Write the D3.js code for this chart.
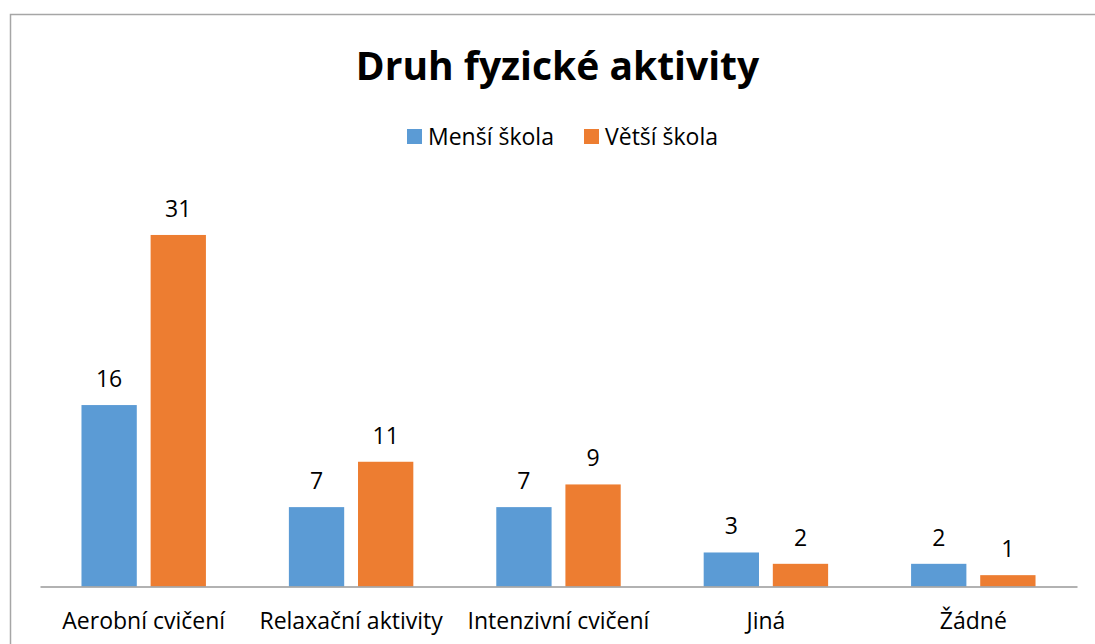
<!DOCTYPE html>
<html>
<head>
<meta charset="utf-8">
<script src="https://cdn.jsdelivr.net/npm/d3@7"></script>
<style>
  html, body { margin: 0; padding: 0; background: #fff; }
  svg { display: block; }
  text { font-family: "Open Sans", "Noto Sans", sans-serif; fill: #000; }
</style>
</head>
<body>
<svg id="chart" width="1095" height="644"></svg>
<script>
const title = "Druh fyzické aktivity";
const categories = ["Aerobní cvičení", "Relaxační aktivity", "Intenzivní cvičení", "Jiná", "Žádné"];
const seriesNames = ["Menší škola", "Větší škola"];
const mensiSkola = [16, 7, 7, 3, 2];
const vetsiSkola = [31, 11, 9, 2, 1];
const seriesColors = ["#5B9BD5", "#ED7D31"];
const yMax = 35;

const seriesValues = [mensiSkola, vetsiSkola];
const data = categories.map((c, i) => ({
  category: c,
  values: seriesNames.map((s, j) => ({ series: s, value: seriesValues[j][i], color: seriesColors[j] }))
}));

const svg = d3.select("#chart");

// chart border
svg.append("rect")
  .attr("x", 10.5).attr("y", 14.5)
  .attr("width", 1200).attr("height", 800)
  .attr("fill", "none").attr("stroke", "#a6a6a6").attr("stroke-width", 1.5);

// title
svg.append("text")
  .attr("x", 557.5).attr("y", 80)
  .attr("text-anchor", "middle")
  .style("font-size", "39px").style("font-weight", "bold")
  .text(title);

const baseY = 586.5;
const x0 = d3.scaleBand().domain(categories).range([40, 1077]).paddingInner(0).paddingOuter(0);
const x1 = d3.scaleBand().domain(seriesNames).range([0, x0.bandwidth()]).paddingInner(0.2).paddingOuter(0.6);
const y = d3.scaleLinear().domain([0, yMax]).range([baseY, baseY - yMax * 11.34]);

const groups = svg.append("g").selectAll("g").data(data).join("g")
  .attr("transform", d => `translate(${x0(d.category)},0)`);

groups.selectAll("rect").data(d => d.values).join("rect")
  .attr("x", d => x1(d.series))
  .attr("y", d => y(d.value))
  .attr("width", x1.bandwidth())
  .attr("height", d => y(0) - y(d.value))
  .attr("fill", d => d.color);

groups.selectAll("text.val").data(d => d.values).join("text")
  .attr("class", "val")
  .attr("x", d => x1(d.series) + x1.bandwidth() / 2)
  .attr("y", d => y(d.value) - 18)
  .attr("text-anchor", "middle")
  .style("font-size", "23px")
  .text(d => d.value);

// x axis
const xAxis = d3.axisBottom(x0).tickSize(0).tickPadding(0);
const axisG = svg.append("g").attr("transform", `translate(0,${baseY})`).call(xAxis);
axisG.select(".domain").attr("stroke", "#999").attr("stroke-width", 1.5);
axisG.selectAll(".tick text")
  .attr("dy", null)
  .attr("y", 42.5)
  .style("font-size", "23px")
  .style("font-family", "'Open Sans', 'Noto Sans', sans-serif")
  .attr("fill", "#000");

// legend
const legendItems = [
  { name: seriesNames[0], color: seriesColors[0], x: 407 },
  { name: seriesNames[1], color: seriesColors[1], x: 584 }
];
const lg = svg.append("g").selectAll("g").data(legendItems).join("g")
  .attr("transform", d => `translate(${d.x},129)`);
lg.append("rect").attr("width", 15).attr("height", 15).attr("fill", d => d.color);
lg.append("text").attr("x", 21).attr("y", 15.5).style("font-size", "23px").text(d => d.name);
</script>
</body>
</html>
